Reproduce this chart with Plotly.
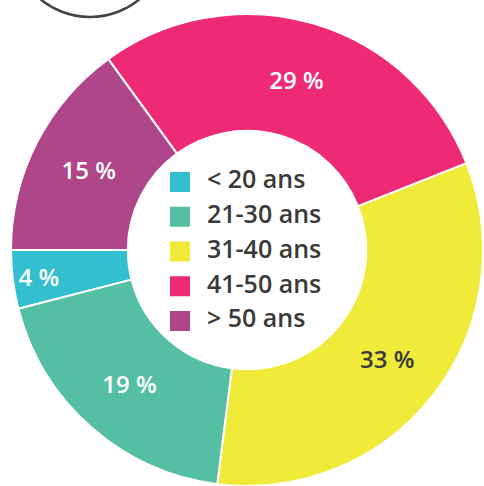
import plotly.graph_objects as go

categories = ["< 20 ans", "21-30 ans", "31-40 ans", "41-50 ans", "> 50 ans"]
values = [4, 19, 33, 29, 15]
colors = ["#33BFD0", "#54BFA2", "#F0EA38", "#EE2A74", "#B0468A"]
label_colors = ["#FFFFFF", "#FFFFFF", "#3A3A3A", "#FFFFFF", "#FFFFFF"]

W, H = 484, 486
FONT = "Open Sans"

fig = go.Figure()

fig.add_trace(go.Pie(
    labels=categories,
    values=values,
    sort=False,
    direction="counterclockwise",
    rotation=255.6,
    hole=0.505,
    marker=dict(colors=colors, line=dict(color="#FFFFFF", width=2)),
    texttemplate="%{value} %",
    textposition="inside",
    insidetextorientation="horizontal",
    insidetextfont=dict(family=FONT, size=24, color=label_colors, weight=600),
    domain=dict(x=[11 / W, 483 / W], y=[0, 472 / H]),
    showlegend=False,
    hoverinfo="label+percent",
))

# legend drawn in the hole
n = len(categories)
ypos = list(range(n - 1, -1, -1))
fig.add_trace(go.Scatter(
    x=[1.11] * n, y=ypos, mode="markers",
    marker=dict(symbol="square", size=20, color=colors, line=dict(width=0)),
    showlegend=False, hoverinfo="skip",
    xaxis="x", yaxis="y",
))
fig.add_trace(go.Scatter(
    x=[2.61] * n, y=ypos, mode="text", text=categories,
    textposition="middle right",
    textfont=dict(family=FONT, size=25, color="#3A3A3A", weight=600),
    showlegend=False, hoverinfo="skip",
    xaxis="x", yaxis="y",
))

cy_leg = (H - 251.5) / H
half = 86.9 / H
fig.update_layout(
    width=W, height=H,
    margin=dict(l=0, r=0, t=0, b=0),
    paper_bgcolor="#FFFFFF",
    plot_bgcolor="rgba(0,0,0,0)",
    xaxis=dict(domain=[160 / W, 340 / W], range=[0, 10], visible=False, fixedrange=True),
    yaxis=dict(domain=[cy_leg - half, cy_leg + half], range=[-0.5, 4.5], visible=False, fixedrange=True),
    shapes=[dict(
        type="circle", xref="paper", yref="paper",
        x0=12 / W, x1=168 / W,
        y0=(H + 61 - 78) / H, y1=(H + 61 + 78) / H,
        line=dict(color="#444444", width=2.5),
        fillcolor="rgba(0,0,0,0)",
    )],
)

fig.write_html(
    "out.html",
    config={"displayModeBar": False},
    post_script="document.body.style.margin='0';document.body.style.overflow='hidden';",
)
